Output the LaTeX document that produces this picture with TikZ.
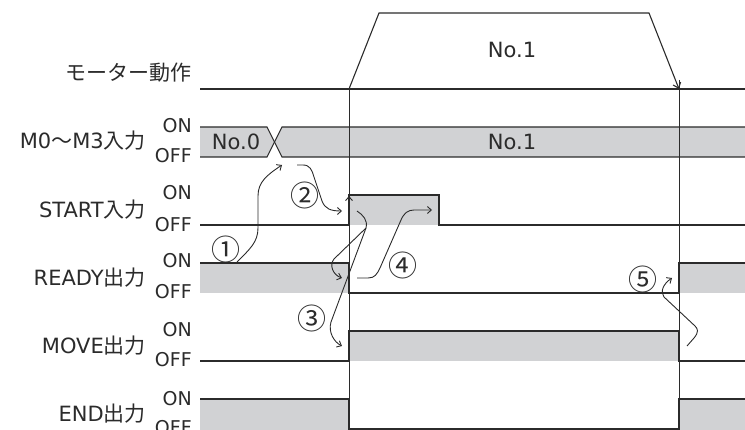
\documentclass[tikz,border=0pt]{standalone}
\usepackage{fontspec}
\setmainfont{DejaVu Sans}
\newfontfamily\jp{Noto Sans CJK JP}
\usetikzlibrary{arrows.meta}
\definecolor{sig}{HTML}{2B2B2B}
\definecolor{band}{HTML}{D1D2D4}
\begin{document}
\begin{tikzpicture}[x=1pt,y=-1pt,
  sigline/.style={draw=sig, line width=1.1pt},
  guide/.style={draw=sig, line width=0.9pt},
  flow/.style={draw=sig, line width=0.9pt, -{Straight Barb[length=4pt,width=7pt]}},
  rowlabel/.style={anchor=base east, inner sep=0pt, font=\fontsize{21}{24}\selectfont, text=sig},
  lvl/.style={anchor=base east, inner sep=0pt, font=\fontsize{19}{22}\selectfont, text=sig},
  num/.style={inner sep=0pt, font=\jp\fontsize{29}{32}\selectfont, text=sig},
  txt/.style={anchor=base, inner sep=0pt, font=\fontsize{21}{24}\selectfont, text=sig}]
\useasboundingbox (0,0) rectangle (745,430);

% grey bands
\fill[band] (200,127) -- (267,127) -- (274.5,142) -- (267,157) -- (200,157) -- cycle;
\fill[band] (282,127) -- (745,127) -- (745,157) -- (282,157) -- (274.5,142) -- cycle;
\fill[band] (349,195) rectangle (439,225);
\fill[band] (200,263) rectangle (349,293);
\fill[band] (679,263) rectangle (745,293);
\fill[band] (349,331) rectangle (679,361);
\fill[band] (200,399) rectangle (349,430);
\fill[band] (679,399) rectangle (745,430);

% motor operation
\draw[sigline] (200,89) -- (745,89);
\coordinate (mstart) at (349,89);
\coordinate (mend) at (679,89);
\draw[sigline, -{Straight Barb[length=5pt,width=8pt]}] (mstart) -- (379,13) -- (649,13) -- (mend);

% timing guides
\draw[guide] (mstart) -- (349,430);
\draw[guide] (679,80) -- (679,430);

% M0-M3
\draw[sigline] (200,127) -- (267,127) -- (282,157) -- (745,157);
\draw[sigline] (200,157) -- (267,157) -- (282,127) -- (745,127);
% START
\draw[sigline] (200,225) -- (349,225) -- (349,195) -- (439,195) -- (439,225) -- (745,225);
% READY
\draw[sigline] (200,263) -- (349,263) -- (349,293) -- (679,293) -- (679,263) -- (745,263);
% MOVE
\draw[sigline] (200,361) -- (349,361) -- (349,331) -- (679,331) -- (679,361) -- (745,361);
% END
\draw[sigline] (200,399) -- (349,399) -- (349,429) -- (679,429) -- (679,399) -- (745,399);

% labels
\node[rowlabel] (lmotor) at (192,81) {\jp モーター動作};
\node[rowlabel] (lm0) at (146,149) {M0{\jp 〜}M3{\jp 入力}};
\node[rowlabel] (lstart) at (146,218) {START{\jp 入力}};
\node[rowlabel] (lready) at (146,286) {READY{\jp 出力}};
\node[rowlabel] (lmove) at (146,354) {MOVE{\jp 出力}};
\node[rowlabel] (lend) at (146,422) {END{\jp 出力}};

\node[lvl] (on1) at (192,133) {ON};
\node[lvl] (off1) at (192,163) {OFF};
\node[lvl] (on2) at (192,200) {ON};
\node[lvl] (off2) at (192,232) {OFF};
\node[lvl] (on3) at (192,268) {ON};
\node[lvl] (off3) at (192,299) {OFF};
\node[lvl] (on4) at (192,337) {ON};
\node[lvl] (off4) at (192,367) {OFF};
\node[lvl] (on5) at (192,406) {ON};
\node[lvl] (off5) at (192,435) {OFF};

\node[txt] (no0) at (236,150) {No.0};
\node[txt] (no1b) at (512,150) {No.1};
\node[txt] (no1m) at (512,58) {No.1};

% step numbers
\node[num] (n1) at (226,249) {①};
\node[num] (n2) at (305,195) {②};
\node[num] (n3) at (312,318) {③};
\node[num] (n4) at (403,265) {④};
\node[num] (n5) at (643,279) {⑤};

% cause-effect arrows
\coordinate (a1s) at (237,262);
\coordinate (a1e) at (282,165);
\draw[flow] (a1s) .. controls (250,249) and (258,242) .. (258,228) -- (258,196) .. controls (258,182) and (267,175) .. (a1e);

\coordinate (a2s) at (297,165);
\coordinate (a2e) at (342,211);
\draw[flow] (a2s) -- (303,165) .. controls (310,165) and (312,170) .. (314,177) -- (322,201) .. controls (325,209) and (331,211) .. (a2e);

\coordinate (stup) at (349,196);
\draw[flow] (349,214) -- (stup);

\coordinate (a3s) at (357,211);
\coordinate (a3r) at (342,278);
\coordinate (a3m) at (342,346);
\draw[flow] (a3s) .. controls (363,215) and (368,220) .. (366,228) -- (334,259) .. controls (329,265) and (333,275) .. (a3r);
\draw[flow] (366,228) -- (331,322) .. controls (328,332) and (334,342) .. (a3m);

\coordinate (a4s) at (357,278);
\coordinate (a4e) at (432,210);
\draw[flow] (a4s) -- (368,278) .. controls (375,278) and (377,274) .. (380,268) -- (401,220) .. controls (404,213) and (408,210) .. (414,210) -- (a4e);

\coordinate (a5s) at (687,346);
\coordinate (a5e) at (672,278);
\draw[flow] (a5s) -- (694,338) .. controls (699,332) and (698,329) .. (695,326) -- (664,297) .. controls (660,292) and (663,284) .. (a5e);
\end{tikzpicture}
\end{document}
